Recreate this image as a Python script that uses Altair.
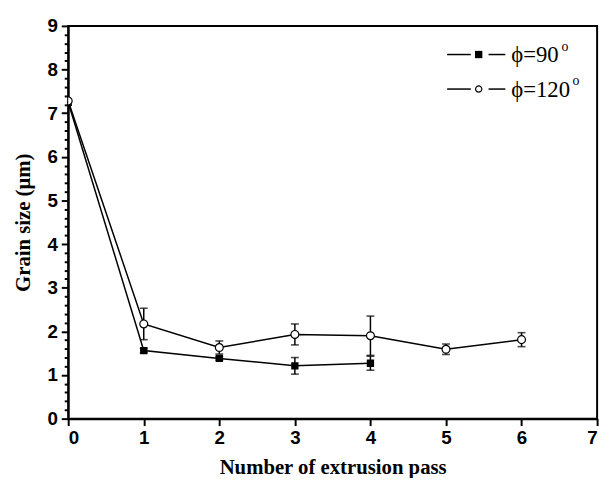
import altair as alt
import pandas as pd

# ---- data ----
passes_90 = [0, 1, 2, 3, 4]
size_90 = [7.25, 1.56, 1.38, 1.21, 1.27]
err_90 = [0.0, 0.05, 0.04, 0.19, 0.16]

passes_120 = [0, 1, 2, 3, 4, 5, 6]
size_120 = [7.28, 2.17, 1.63, 1.93, 1.90, 1.59, 1.81]
err_120 = [0.0, 0.36, 0.15, 0.24, 0.45, 0.12, 0.16]

series_names = ["ϕ=90", "ϕ=120"]
x_ticks = [0, 1, 2, 3, 4, 5, 6, 7]
y_major = [0, 1, 2, 3, 4, 5, 6, 7, 8, 9]
y_minor = [round(k * 0.2, 1) for k in range(46) if k % 5 != 0]

rows = []
for name, xs, ys, es in [(series_names[0], passes_90, size_90, err_90),
                         (series_names[1], passes_120, size_120, err_120)]:
    for x, y, e in zip(xs, ys, es):
        rows.append({"series": name, "pass": x, "size": y, "lo": y - e, "hi": y + e, "err": e})
df = pd.DataFrame(rows)

xs = alt.Scale(domain=[0, 7], nice=False)
ys = alt.Scale(domain=[0, 9], nice=False)

x_enc = alt.X("pass:Q", scale=xs,
              axis=alt.Axis(values=x_ticks, format="d", title="Number of extrusion pass",
                            ticks=True, tickSize=7, labelPadding=3, titlePadding=10,
                            grid=False, labelOverlap=False))
y_enc = alt.Y("size:Q", scale=ys,
              axis=alt.Axis(orient="left", values=y_major, title="Grain size (μm)", grid=False,
                            format="d", ticks=True, tickSize=7, labelOverlap=False,
                            labelPadding=4, titlePadding=14))

base = alt.Chart(df)

lines = base.mark_line(color="black", strokeWidth=1.5).encode(
    x=x_enc, y=y_enc, detail="series:N", order="pass:Q")

minor_axis = base.mark_point(opacity=0).encode(
    x=alt.X("pass:Q", scale=xs),
    y=alt.Y("size:Q", scale=ys,
            axis=alt.Axis(orient="left", values=y_minor, labels=False, ticks=True, tickSize=4,
                          domain=False, title=None, grid=False)))

eb = base.transform_filter("datum.err > 0")
err_rule = eb.mark_rule(color="black", strokeWidth=1.5).encode(
    x="pass:Q", y=alt.Y("lo:Q", axis=None), y2="hi:Q")
cap_lo = eb.mark_tick(color="black", orient="horizontal", size=8, thickness=1.6).encode(
    x="pass:Q", y=alt.Y("lo:Q", axis=None))
cap_hi = eb.mark_tick(color="black", orient="horizontal", size=8, thickness=1.6).encode(
    x="pass:Q", y=alt.Y("hi:Q", axis=None))

sq = base.transform_filter(alt.datum.series == series_names[0]).mark_point(
    shape="square", filled=True, color="black", size=55, opacity=1, clip=True).encode(
    x="pass:Q", y=alt.Y("size:Q", axis=None))
circ = base.transform_filter(alt.datum.series == series_names[1]).mark_point(
    shape="circle", fill="white", stroke="black", strokeWidth=1.2, size=64, opacity=1,
    fillOpacity=1, clip=True).encode(
    x="pass:Q", y=alt.Y("size:Q", axis=None))

# ---- manual legend (pixel positions inside plot area) ----
one = pd.DataFrame({"t": [0]})
leg_rows = [29, 64]
legend_layers = []
for i, yy in enumerate(leg_rows):
    legend_layers.append(alt.Chart(one).mark_rule(color="black", strokeWidth=1.5).encode(
        x=alt.value(384), x2=alt.value(408), y=alt.value(yy)))
    legend_layers.append(alt.Chart(one).mark_rule(color="black", strokeWidth=1.5).encode(
        x=alt.value(426), x2=alt.value(443), y=alt.value(yy)))
    if i == 0:
        legend_layers.append(alt.Chart(one).mark_point(
            shape="square", filled=True, color="black", size=55, opacity=1).encode(
            x=alt.value(416), y=alt.value(yy)))
    else:
        legend_layers.append(alt.Chart(one).mark_point(
            shape="circle", fill="white", stroke="black", strokeWidth=1.2, size=40, opacity=1).encode(
            x=alt.value(416), y=alt.value(yy)))
    legend_layers.append(alt.Chart(pd.DataFrame({"t": [series_names[i]]})).mark_text(
        font="Liberation Serif", fontSize=23, align="left", baseline="middle", color="black").encode(
        x=alt.value(449), y=alt.value(yy + 1), text="t:N"))
    legend_layers.append(alt.Chart(pd.DataFrame({"t": ["o"]})).mark_text(
        font="Liberation Serif", fontSize=14, align="left", baseline="middle", color="black").encode(
        x=alt.value(500 if i == 0 else 511), y=alt.value(yy - 8), text="t:N"))

chart = alt.layer(lines, minor_axis, err_rule, cap_lo, cap_hi, sq, circ, *legend_layers).resolve_axis(
    y="independent"
).properties(
    width=536, height=398,
    background="white",
    autosize=alt.AutoSizeParams(type="none"),
    padding={"left": 61, "top": 15, "right": 8, "bottom": 57},
).configure_view(stroke="black", strokeWidth=2).configure_axis(
    domainColor="black", domainWidth=2, tickColor="black", tickWidth=2,
    labelFont="Liberation Sans", labelFontWeight="bold", labelFontSize=19, labelColor="black",
    titleFont="Liberation Serif", titleFontWeight="bold", titleFontSize=21, titleColor="black",
)

chart.save("out.html", embed_options={"renderer": "svg", "actions": False})
